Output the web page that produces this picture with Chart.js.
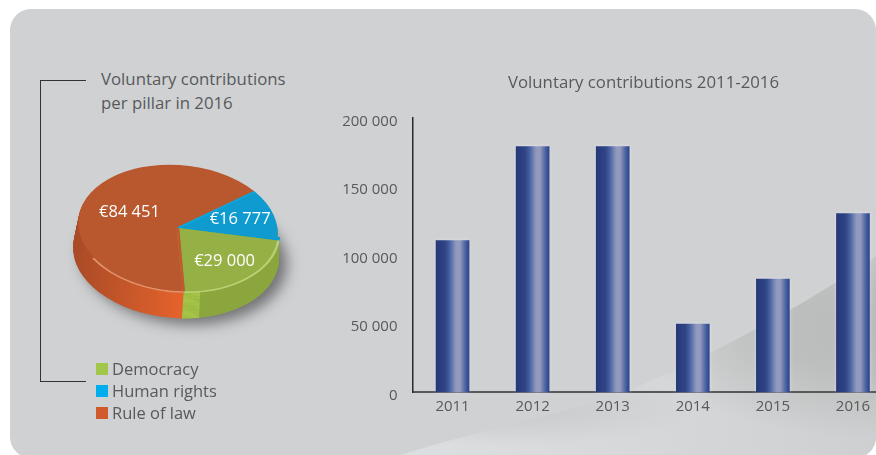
<!DOCTYPE html>
<html><head><meta charset="utf-8">
<script src="https://cdn.jsdelivr.net/npm/chart.js@4"></script>
<style>
html,body{margin:0;padding:0;background:#fff;overflow:hidden}
#page{position:relative;width:876px;height:455px;overflow:hidden;font-family:"Open Sans",sans-serif;color:#58595b}
#panel{position:absolute;left:10px;top:9px;width:866px;height:449px;border-radius:21px;background:#d0d1d3;overflow:hidden}
#wedge{position:absolute;left:-10px;top:-9px;width:876px;height:455px;
 clip-path:path('M400 455 C480 430 560 415 630 390 C690 365 790 315 876 256 L876 455 Z');
 background:
  radial-gradient(ellipse 235px 108px at 870px 330px,#b9baba 0%,#bdbebe 40%,rgba(200,201,201,0) 100%),
  radial-gradient(ellipse 200px 38px at 500px 408px,rgba(192,195,197,.8) 0%,rgba(192,195,197,0) 100%),
  linear-gradient(90deg,#d9dcde 0%,#dcdfe1 45%,#d6d7d8 75%,#cecfd0 100%)}
#bracket{position:absolute;left:40px;top:80px;width:45px;height:300px;border:solid #333;border-width:1.5px 0 1.5px 1.5px}
#pieTitle{position:absolute;left:101px;top:67px;font-size:16.8px;line-height:24px;white-space:nowrap}
#legend{position:absolute;left:96px;top:358px;font-size:16.5px;line-height:22px}
#legend div{display:flex;align-items:center;white-space:nowrap}
#legend i{display:inline-block;width:12px;height:12px;margin-right:4px}
#pieWrap{position:absolute;left:38px;top:88px;width:280px;height:280px}
#barWrap{position:absolute;left:330px;top:60px;width:626px;height:362px}
</style></head>
<body>
<div id="page">
 <div id="panel"><div id="wedge"></div></div>
 <div id="bracket"></div>
 <div id="pieTitle">Voluntary contributions<br>per pillar in 2016</div>
 <div id="pieWrap"><canvas id="pie" width="280" height="280"></canvas></div>
 <div id="legend"></div>
 <div id="barWrap"><canvas id="bar" width="626" height="362"></canvas></div>
</div>
<script>
const years = ['2011','2012','2013','2014','2015','2016'];
const contributions = [110600,179200,179200,49600,82500,130228];
const barTitle = 'Voluntary contributions 2011-2016';
const yTicks = [0,50000,100000,150000,200000];

const pillars = ['Human rights','Democracy','Rule of law'];
const pillarValues = [16777,29000,84451];
const pillarLabels = ['€16 777','€29 000','€84 451'];
const legendOrder = ['Democracy','Human rights','Rule of law'];
const legendColors = {'Democracy':'#a2c64a','Human rights':'#00aeef','Rule of law':'#d15a2c'};
const faceColors = ['#0f9bcf','#95b146','#b9582e'];
const edgeColors = ['#0aa6dc','#7f9f3e','#c4582f'];
const sideStops = [['#8aa63c','#8aa63c'],['#9dbb45','#8aa63c'],['#a94b27','#e4622c']];
const rimColors = ['#0a9cd0','#b9d173','#e0926a'];
const labelReach = [0.65,0.68,0.53];

const TILT = 5*Math.PI/180, SQUASH = 0.63, DEPTH = 25;

document.getElementById('legend').innerHTML = legendOrder.map(n =>
  '<div><i style="background:'+legendColors[n]+'"></i>'+n+'</div>').join('');

function applyTilt(ctx, x, y){
  ctx.translate(x,y); ctx.rotate(TILT); ctx.scale(1,SQUASH); ctx.translate(-x,-y);
}
const tiltPlugin = {
  id:'tilt',
  beforeDatasetsDraw(chart){
    const ctx = chart.ctx, arcs = chart.getDatasetMeta(0).data, a0 = arcs[0];
    const x = a0.x, y = a0.y, R = a0.outerRadius;
    ctx.save();
    ctx.shadowColor = 'rgba(50,50,50,.6)'; ctx.shadowBlur = 14;
    ctx.shadowOffsetX = 8; ctx.shadowOffsetY = 6;
    ctx.translate(-2,DEPTH); applyTilt(ctx,x,y);
    ctx.beginPath(); ctx.arc(x,y,R+3,0,Math.PI*2); ctx.fillStyle = '#8a8a8a'; ctx.fill();
    ctx.restore();
    for(let i=DEPTH;i>=1;i--){
      ctx.save();
      ctx.translate(-i*0.08,i); applyTilt(ctx,x,y);
      arcs.forEach((arc,k)=>{
        const g = ctx.createLinearGradient(x-R,0,x+R*0.1,0);
        g.addColorStop(0,sideStops[k][0]); g.addColorStop(1,sideStops[k][1]);
        ctx.beginPath(); ctx.moveTo(x,y);
        ctx.arc(x,y,R+i*0.13,arc.startAngle,arc.endAngle); ctx.closePath();
        ctx.fillStyle = g; ctx.fill();
        if(k===1){
          ctx.beginPath(); ctx.moveTo(x,y);
          ctx.arc(x,y,R+i*0.13,arc.endAngle-0.17,arc.endAngle); ctx.closePath();
          ctx.fillStyle = '#a6c548'; ctx.fill();
        }
      });
      ctx.restore();
    }
    ctx.save(); applyTilt(ctx,x,y);
    arcs.forEach((arc,k)=>{
      const s = Math.max(arc.startAngle,0), e = Math.min(arc.endAngle,Math.PI*0.8);
      if(e<=s) return;
      ctx.beginPath(); ctx.arc(x,y,R+1,s,e);
      ctx.strokeStyle = rimColors[k]; ctx.lineWidth = 2.8; ctx.stroke();
    });
    ctx.restore();
    ctx.save(); applyTilt(ctx,x,y);
  },
  afterDatasetsDraw(chart){
    const ctx = chart.ctx, arcs = chart.getDatasetMeta(0).data;
    const x = arcs[0].x, y = arcs[0].y;
    arcs.forEach((arc,k)=>{
      const ang = k===1 ? arc.endAngle : arc.startAngle;
      ctx.beginPath(); ctx.moveTo(x,y);
      ctx.lineTo(x+arc.outerRadius*Math.cos(ang),y+arc.outerRadius*Math.sin(ang));
      ctx.strokeStyle = edgeColors[k]; ctx.lineWidth = 2.5; ctx.stroke();
    });
    ctx.restore();
    ctx.save();
    ctx.font = '16.5px "Open Sans",sans-serif';
    ctx.fillStyle = '#fff'; ctx.textAlign = 'center'; ctx.textBaseline = 'middle';
    arcs.forEach((arc,k)=>{
      const m = (arc.startAngle+arc.endAngle)/2, r = arc.outerRadius*labelReach[k];
      const px = r*Math.cos(m), py = r*Math.sin(m)*SQUASH;
      ctx.fillText(pillarLabels[k],
        x+px*Math.cos(TILT)-py*Math.sin(TILT),
        y+px*Math.sin(TILT)+py*Math.cos(TILT));
    });
    ctx.restore();
  }
};

new Chart(document.getElementById('pie'),{
  type:'pie',
  data:{labels:pillars,datasets:[{data:pillarValues,backgroundColor:faceColors,borderWidth:0,clip:false}]},
  options:{
    responsive:false,animation:false,rotation:47,
    layout:{padding:40},
    plugins:{legend:{display:false},tooltip:{enabled:false},title:{display:false}}
  },
  plugins:[tiltPlugin]
});

function barFill(c){
  const chart = c.chart, sx = chart.scales.x;
  const cx = sx && c.dataIndex!==undefined ? sx.getPixelForValue(c.dataIndex) : NaN, w = 33;
  if(!Number.isFinite(cx)) return '#3b5499';
  const g = chart.ctx.createLinearGradient(cx-w/2,0,cx+w/2,0);
  g.addColorStop(0,'#26387a'); g.addColorStop(.28,'#2f4585'); g.addColorStop(.42,'#4a63a3');
  g.addColorStop(.6,'#8e98bf'); g.addColorStop(.72,'#959bbd'); g.addColorStop(.84,'#5f72a9');
  g.addColorStop(.94,'#3b5499'); g.addColorStop(1,'#2c4488');
  return g;
}
const glowPlugin = {
  id:'glow',
  beforeDatasetDraw(chart){ const c=chart.ctx; c.save(); c.shadowColor='rgba(235,240,255,.45)'; c.shadowBlur=4; },
  afterDatasetDraw(chart){ chart.ctx.restore(); }
};
const titleShiftPlugin = {
  id:'titleShift',
  afterLayout(chart){ chart.titleBlock.left += 32; chart.titleBlock.right += 32; }
};
new Chart(document.getElementById('bar'),{
  type:'bar',
  data:{labels:years,datasets:[{data:contributions,backgroundColor:barFill,barThickness:33,borderWidth:0,clip:false}]},
  options:{
    responsive:false,animation:false,
    layout:{padding:{right:63,top:0,bottom:0,left:0}},
    plugins:{
      legend:{display:false},tooltip:{enabled:false},
      title:{display:true,text:barTitle,color:'#58595b',
        font:{family:'"Open Sans",sans-serif',size:16.8,weight:'normal'},
        padding:{top:13,bottom:25}}
    },
    scales:{
      x:{
        grid:{display:false,drawTicks:false},
        border:{display:true,color:'#58585a',width:2},
        ticks:{color:'#58595b',font:{family:'"Open Sans",sans-serif',size:15},padding:6,maxRotation:0},
        afterFit(s){s.height=30;}
      },
      y:{
        min:0,max:200000,
        afterBuildTicks(s){s.ticks=yTicks.map(v=>({value:v}));},
        grid:{display:false,drawTicks:false},
        border:{display:true,color:'#2a2a2a',width:1.5},
        ticks:{color:'#58595b',font:{family:'"Open Sans",sans-serif',size:15},padding:15,labelOffset:3.5,
          callback:v=>String(v).replace(/\B(?=(\d{3})+$)/g,' ')},
        afterFit(s){s.width=82.5;}
      }
    }
  },
  plugins:[glowPlugin,titleShiftPlugin]
});
</script>
</body></html>
